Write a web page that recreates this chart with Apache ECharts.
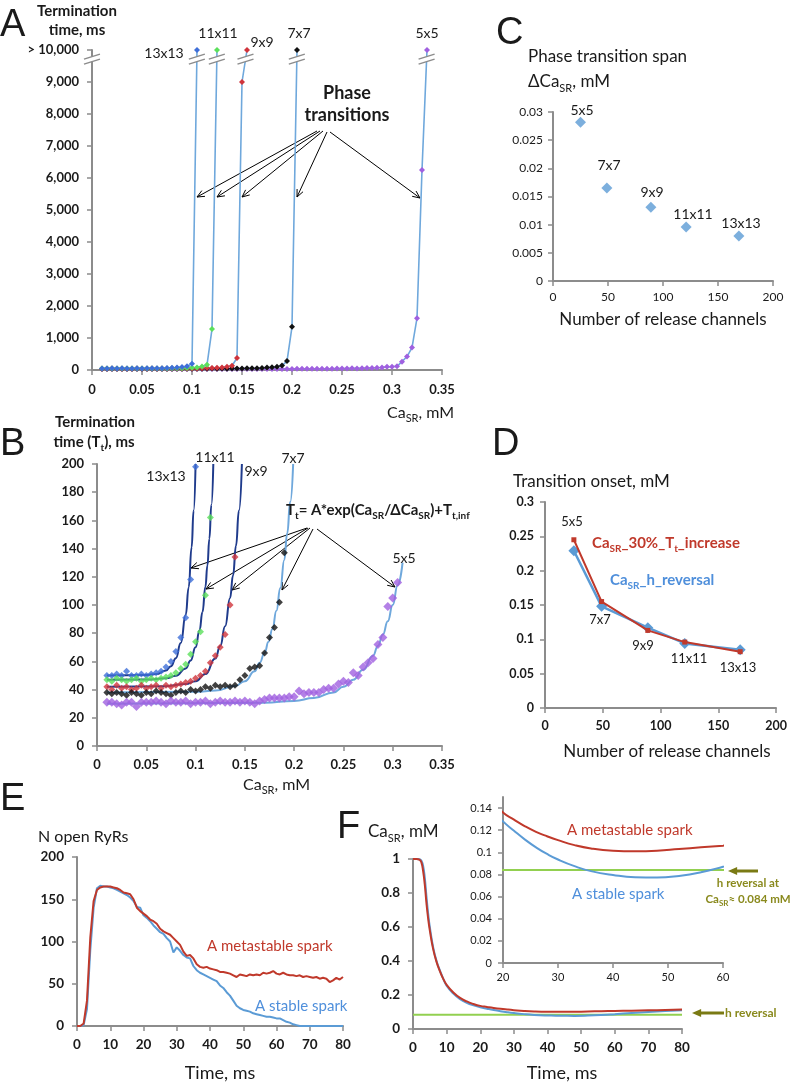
<!DOCTYPE html>
<html><head><meta charset="utf-8">
<script src="https://cdn.jsdelivr.net/npm/echarts@6/dist/echarts.min.js"></script>
<style>html,body{margin:0;padding:0;background:#fff}#c{width:796px;height:1085px}</style>
</head><body><div id="c"></div>
<script>
// ---------------- DATA ----------------
// Panel A/B: Ca_SR grid (mM)
const caGrid = [0.01,0.015,0.02,0.025,0.03,0.035,0.04,0.045,0.05,0.055,
  0.06,0.065,0.07,0.075,0.08,0.085,0.09,0.095,0.1,0.105,
  0.11,0.115,0.12,0.125,0.13,0.135,0.14,0.145,0.15,0.155,
  0.16,0.165,0.17,0.175,0.18,0.185,0.19,0.195,0.2,0.205,
  0.21,0.215,0.22,0.225,0.23,0.235,0.24,0.245,0.25,0.255,
  0.26,0.265,0.27,0.275,0.28,0.285,0.29,0.295,0.3,0.305,
  0.31,0.315,0.32,0.325,0.33,0.335];
// Termination time (ms); 10000 means "> 10,000"
const tt13 = [50,50,51,50,53,50,50,51,50,51,52,53,56,60,67,77,91,118,198,10000];
const tt11 = [47,46,48,47,46,47,48,46,47,48,47,48,49,50,52,55,58,65,74,81,107,162,1280,10000];
const tt9  = [42,40,43,41,42,40,41,43,41,42,43,41,43,42,43,44,45,46,48,50,53,59,64,70,79,100,134,375,9000,10000];
const tt7  = [38,37,38,37,36,38,37,36,38,37,39,38,37,36,38,39,38,40,39,40,42,41,43,42,43,42,43,47,50,55,56,57,66,77,84,102,137,280,1350,10000];
const tt5  = [31,31,30,29,31,31,28,31,31,31,32,31,30,32,31,31,32,30,31,31,32,30,31,32,31,31,32,31,32,31,
  30,32,33,34,34,34,34,35,35,39,37,38,38,38,40,41,41,44,46,45,52,50,56,59,62,72,77,99,105,116,
  260,420,700,1620,6250,10000];
const sizeNames = ['13x13','11x11','9x9','7x7','5x5'];
// Panel B fitted curves
const fit13x = [0.01,0.05,0.06,0.07,0.075,0.08,0.085,0.09,0.093,0.096,0.098,0.1];
const fit13y = [50,50.3,51,53.5,56.6,62.3,73,93,112.5,141,167,200];
const fit11x = [0.01,0.05,0.07,0.08,0.09,0.095,0.1,0.104,0.107,0.11,0.112,0.114,0.116,0.118];
const fit11y = [47,47.2,48,49.8,55,60.6,70,82,95,113,128,147,171,200];
const fit9x  = [0.01,0.07,0.09,0.1,0.11,0.12,0.125,0.13,0.135,0.138,0.141,0.144,0.147];
const fit9y  = [42,42.4,44,46,51,62,71,85,105,121,142,167,200];
const fit7x  = [0.01,0.1,0.12,0.14,0.15,0.16,0.165,0.17,0.174,0.178,0.182,0.186,0.19,0.193,0.196,0.199];
const fit7y  = [38,38.4,39.3,42.5,46,53,59,66,74,83,96,112,132,151,173,200];
const fit5x  = [0.01,0.17,0.2,0.22,0.24,0.25,0.26,0.27,0.28,0.285,0.29,0.295,0.3,0.305,0.31];
const fit5y  = [30,30.7,32,34,38,42,47,54,64,71,79,88.5,100,114,130];
// Panel C / D
const channels = [25,49,89,121,169];
const spanDelta = [0.0282,0.0165,0.0131,0.0096,0.0080];
const onset30 = [0.245,0.155,0.113,0.096,0.082];
const onsetH  = [0.229,0.148,0.117,0.094,0.085];
// Panel E (N open RyRs vs time, ms)
const timeE = [0,1,2,3,4,5,6,7,8,9,10,11,12,13,14,15,16,17,18,19,20,21,22,23,24,25,26,27,28,29,
  30,31,32,33,34,35,36,37,38,39,40,41,42,43,44,45,46,47,48,49,50,51,52,53,54,55,56,57,58,59,
  60,61,62,63,64,65,66,67,68,69,70,71,72,73,74,75,76,77,78,79,80];
const stableE = [0,0,1,20,90,140,163,166,165,165,164,163,161,159,157,155,152,148,141,140,
  131,128,124,119,115,111,109,104,100,87,93,89,84,81,80,71,66,63,61,59,
  57,55,53,48,45,40,36,30,24,21,19,18,17,15,14,13,12,11,11,10,
  9,9,7,5,4,2,1,0,0,0,0,0,0,0,0,0,0,0,0,0,0];
const metaE = [0,0,3,30,105,148,161,164,165,165,165,164,163,161,158,157,156,150,140,136,
  133,130,126,124,121,115,112,110,108,104,100,96,88,83,84,80,73,70,69,70,
  68,67,66,64,64,63,62,60,58,61,60,59,61,60,61,60,63,62,63,65,
  62,61,63,61,60,60,59,60,58,59,58,57,58,56,57,56,52,54,57,55,58];
// Panel F (Ca_SR, mM vs time)
const timeF = [0,1,2,2.5,3,3.5,4,4.5,5,6,7,8,9,10,12,14,16,18,20,22,24,26,28,30,33,36,40,44,48,52,56,60,65,70,75,80];
const metaF = [1,1,0.995,0.98,0.93,0.85,0.74,0.65,0.58,0.47,0.395,0.34,0.295,0.26,0.215,0.183,0.162,0.147,
  0.136,0.1295,0.1235,0.1185,0.1145,0.111,0.1065,0.1035,0.1015,0.101,0.1015,0.103,0.1045,0.106,0.108,0.110,0.112,0.114];
const stableF = [1,1,0.998,0.99,0.96,0.89,0.78,0.68,0.6,0.48,0.4,0.345,0.295,0.255,0.208,0.176,0.154,0.139,
  0.128,0.1195,0.1115,0.1045,0.0985,0.0935,0.0875,0.083,0.0795,0.0775,0.0772,0.0787,0.082,0.087,0.094,0.1,0.106,0.111];
const hReversal = 0.084;

// ---------------- STYLE ----------------
const FONT = 'Lato, "Open Sans", sans-serif';
const AXC = '#8c8c8c', TXT = '#1a1a1a';
const LBLUE = '#5B9BD5', DRED = '#C0392B', NAVY = '#1F3B8C', GREEN = '#92D050', OLIVE = '#8A8A1E';
const markColors = ['#3F6FD8','#5BE05B','#D0343C','#111111','#A060E0'];
const ttAll = [tt13, tt11, tt9, tt7, tt5];

function zip(xs, ys){ return ys.map((y,i)=>[xs[i], y]); }
function axis(gridIndex, min, max, interval, lab, extra){
  return Object.assign({
    type:'value', gridIndex, min, max, interval,
    axisLine:{show:true, onZero:false, lineStyle:{color:AXC, width:2}},
    axisTick:{show:true, inside:false, length:5, lineStyle:{color:AXC, width:1.5}},
    splitLine:{show:false},
    axisLabel:Object.assign({show:true, color:TXT, fontFamily:FONT, fontSize:13, fontWeight:'bold', margin:12,
      formatter: v => String(+(+v).toFixed(4))}, lab||{})
  }, extra||{});
}
const grids = [
  {left:92, top:50, width:350, height:320},
  {left:97, top:464, width:345, height:282},
  {left:553, top:112, width:220, height:169},
  {left:545, top:502, width:231, height:206},
  {left:77, top:857, width:266, height:169},
  {left:413, top:859, width:269, height:170},
  {left:503, top:797, width:220, height:166}
].map(g => Object.assign({containLabel:false, outerBoundsMode:'none'}, g));

const xAxes = [
  axis(0, 0, 0.35, 0.05, {margin:13}),
  axis(1, 0, 0.35, 0.05, {margin:12}),
  axis(2, 0, 200, 50, {fontWeight:'normal', fontSize:12, margin:10}),
  axis(3, 0, 200, 50, {fontSize:12.5, margin:11}),
  axis(4, 0, 80, 10, {fontSize:13.5, margin:12}),
  axis(5, 0, 80, 10, {fontSize:13.5, margin:12}),
  axis(6, 20, 60, 10, {fontWeight:'normal', fontSize:11, margin:9})
];
const yAxes = [
  axis(0, 0, 10000, 1000, {margin:13, formatter: v => v===10000 ? '> 10,000' : Number(v).toLocaleString('en-US')}),
  axis(1, 0, 200, 20, {margin:13}),
  axis(2, 0, 0.03, 0.005, {fontWeight:'normal', fontSize:12, margin:10}),
  axis(3, 0, 0.3, 0.05, {fontSize:12.5, margin:11}),
  axis(4, 0, 200, 50, {fontSize:13.5, margin:13}),
  axis(5, 0, 1, 0.2, {fontSize:13.5, margin:13}),
  axis(6, 0, 0.15, 0.02, {fontWeight:'normal', fontSize:11, margin:11, showMaxLabel:false})
];

const series = [];
// Panel A: lines with markers (drawn from 5x5 up to 13x13 so smaller-span series sit on top)
[4,3,2,1,0].forEach(k => {
  series.push({type:'line', xAxisIndex:0, yAxisIndex:0, data: zip(caGrid, ttAll[k]),
    symbol:'diamond', symbolSize:6, showSymbol:true,
    lineStyle:{color:'#6FA8DC', width:1.6}, itemStyle:{color:markColors[k]}, z:3});
});
// break marks on panel A (axis + each curve)
function crossX(xs, ys, yv){
  for (let i=0;i<ys.length-1;i++) if (ys[i] < yv && ys[i+1] >= yv) return xs[i] + (xs[i+1]-xs[i])*(yv-ys[i])/(ys[i+1]-ys[i]);
  return xs[ys.length-1];
}
const breakY = 9700;
const breakPts = [[0, breakY]].concat(ttAll.map(tt => [crossX(caGrid, tt, breakY), breakY]));
series.push({type:'custom', xAxisIndex:0, yAxisIndex:0, clip:false, silent:true, z:6, data: breakPts,
  renderItem:(params, api) => {
    const p = api.coord([api.value(0), api.value(1)]); const cx=p[0], cy=p[1];
    return {type:'group', children:[
      {type:'polygon', shape:{points:[[cx-6,cy-1.5],[cx+6,cy-5],[cx+6,cy+0.5],[cx-6,cy+4]]}, style:{fill:'#fff'}},
      {type:'line', shape:{x1:cx-8,y1:cy-0.5,x2:cx+8,y2:cy-5.5}, style:{stroke:AXC, lineWidth:1.5}},
      {type:'line', shape:{x1:cx-8,y1:cy+4.5,x2:cx+8,y2:cy-0.5}, style:{stroke:AXC, lineWidth:1.5}}
    ]};
  }});
// Panel B: fitted curves + scatter
[[fit13x,fit13y,NAVY],[fit11x,fit11y,NAVY],[fit9x,fit9y,NAVY],[fit7x,fit7y,'#6FA8DC'],[fit5x,fit5y,'#6FA8DC']].forEach(f => {
  series.push({type:'line', xAxisIndex:1, yAxisIndex:1, data: zip(f[0], f[1]), showSymbol:false, symbol:'none',
    smooth:true, smoothMonotone:'x', lineStyle:{color:f[2], width:2}, z:2});
});
ttAll.forEach((tt, k) => {
  series.push({type:'scatter', xAxisIndex:1, yAxisIndex:1, data: zip(caGrid, tt), clip:true,
    symbol:'diamond', symbolSize: k===4 ? 9 : 7, itemStyle:{color:markColors[k]}, z:4});
});
// Panel C
series.push({type:'scatter', xAxisIndex:2, yAxisIndex:2, data: zip(channels, spanDelta),
  symbol:'diamond', symbolSize:11, itemStyle:{color:LBLUE}});
// Panel D
series.push({type:'line', xAxisIndex:3, yAxisIndex:3, data: zip(channels, onsetH),
  symbol:'diamond', symbolSize:11, lineStyle:{color:LBLUE, width:2.5}, itemStyle:{color:LBLUE}, z:3});
series.push({type:'line', xAxisIndex:3, yAxisIndex:3, data: zip(channels, onset30),
  symbol:'rect', symbolSize:5, lineStyle:{color:DRED, width:2}, itemStyle:{color:DRED}, z:4});
// Panel E
series.push({type:'line', xAxisIndex:4, yAxisIndex:4, data: zip(timeE, stableE), symbol:'none',
  lineStyle:{color:LBLUE, width:2}, z:3});
series.push({type:'line', xAxisIndex:4, yAxisIndex:4, data: zip(timeE, metaE), symbol:'none',
  lineStyle:{color:DRED, width:2}, z:4});
// Panel F main + inset
[[5,5],[6,6]].forEach(ix => {
  series.push({type:'line', xAxisIndex:ix[0], yAxisIndex:ix[1], data: [[timeF[0], hReversal],[timeF[timeF.length-1], hReversal]],
    symbol:'none', lineStyle:{color:GREEN, width:2}, clip:true, z:2});
  series.push({type:'line', xAxisIndex:ix[0], yAxisIndex:ix[1], data: zip(timeF, stableF), symbol:'none', smooth:0.5,
    lineStyle:{color:LBLUE, width:2}, clip:true, z:3});
  series.push({type:'line', xAxisIndex:ix[0], yAxisIndex:ix[1], data: zip(timeF, metaF), symbol:'none', smooth:0.5,
    lineStyle:{color:DRED, width:2}, clip:true, z:4});
});

// ---------------- ANNOTATIONS ----------------
function txt(x, y, text, size, opt){
  opt = opt || {};
  return {type:'text', x, y, z:100, silent:true, style:{text, fill: opt.color||TXT,
    fontSize:size, fontFamily: opt.family||FONT, fontWeight: opt.weight||'normal',
    align: opt.align||'left', verticalAlign:'middle'}};
}
function rtxt(x, y, text, size, opt){
  opt = opt || {};
  const col = opt.color||TXT, w = opt.weight||'normal', ss = Math.round(size*0.66);
  return {type:'text', x, y, z:100, silent:true, style:{text, fill:col, fontSize:size, fontFamily:FONT, fontWeight:w,
    align: opt.align||'left', verticalAlign:'middle',
    rich:{ n:{fontSize:size, fontFamily:FONT, fontWeight:w, fill:col, lineHeight:size+6},
           s:{fontSize:ss, fontFamily:FONT, fontWeight:w, fill:col, lineHeight:ss+1, verticalAlign:'bottom'} }}};
}
function arrow(x1,y1,x2,y2,color,w,hl,filled){
  const a = Math.atan2(y2-y1, x2-x1), s = 0.42;
  const h1 = [x2-hl*Math.cos(a-s), y2-hl*Math.sin(a-s)], h2 = [x2-hl*Math.cos(a+s), y2-hl*Math.sin(a+s)];
  const ex = filled ? x2-hl*0.7*Math.cos(a) : x2, ey = filled ? y2-hl*0.7*Math.sin(a) : y2;
  const ch = [{type:'line', shape:{x1,y1,x2:ex,y2:ey}, style:{stroke:color, lineWidth:w}}];
  if (filled) ch.push({type:'polygon', shape:{points:[[x2,y2],h1,h2]}, style:{fill:color}});
  else ch.push({type:'polyline', shape:{points:[h1,[x2,y2],h2]}, style:{stroke:color, lineWidth:w, fill:'none'}});
  return {type:'group', z:100, silent:true, children:ch};
}
const LET = {family:'"Liberation Sans", Arial, sans-serif'};
const graphics = [
  // panel letters
  txt(0, 26, 'A', 38, LET), txt(0, 445, 'B', 38, LET), txt(496, 34, 'C', 38, LET),
  txt(492, 445, 'D', 38, LET), txt(0, 800, 'E', 38, LET), txt(337, 828, 'F', 38, LET),
  // Panel A
  txt(77, 11, 'Termination', 15, {weight:'bold', align:'center'}),
  txt(77, 30, 'time, ms', 15, {weight:'bold', align:'center'}),
  rtxt(387, 413, '{n|Ca}{s|SR}{n|, mM}', 16),
  txt(164, 53, '13x13', 14, {align:'center'}), txt(218, 33, '11x11', 14, {align:'center'}),
  txt(262, 42, '9x9', 14, {align:'center'}), txt(299, 33, '7x7', 14, {align:'center'}),
  txt(427, 33, '5x5', 14, {align:'center'}),
  txt(347, 93, 'Phase', 18, {weight:'bold', align:'center'}),
  txt(347, 115, 'transitions', 18, {weight:'bold', align:'center'}),
  arrow(317,131,197,197,'#000',1,8,false), arrow(320,131,217,197,'#000',1,8,false),
  arrow(323,131,242,197,'#000',1,8,false), arrow(327,132,297,197,'#000',1,8,false),
  arrow(330,132,420,198,'#000',1,8,false),
  // Panel B
  txt(95, 422, 'Termination', 15, {weight:'bold', align:'center'}),
  rtxt(94, 442, '{n|time (T}{s|t}{n|), ms}', 15, {weight:'bold', align:'center'}),
  rtxt(243, 785, '{n|Ca}{s|SR}{n|, mM}', 16),
  txt(166, 476, '13x13', 14, {align:'center'}), txt(215, 457, '11x11', 14, {align:'center'}),
  txt(256, 471, '9x9', 14, {align:'center'}), txt(293, 458, '7x7', 14, {align:'center'}),
  txt(404, 558, '5x5', 14, {align:'center'}),
  rtxt(286, 510, '{n|T}{s|t}{n|= A*exp(Ca}{s|SR}{n|/ΔCa}{s|SR}{n|)+T}{s|t,inf}', 15, {weight:'bold'}),
  arrow(307,528,191,568,'#000',1,8,false), arrow(308,528,206,589,'#000',1,8,false),
  arrow(310,528,232,590,'#000',1,8,false), arrow(313,529,282,590,'#000',1,8,false),
  arrow(317,529,395,587,'#000',1,8,false),
  // Panel C
  txt(528, 57, 'Phase transition span', 17),
  rtxt(528, 82, '{n|ΔCa}{s|SR}{n|, mM}', 17),
  txt(663, 320, 'Number of release channels', 17, {align:'center'}),
  txt(582, 110, '5x5', 14, {align:'center'}), txt(609, 165, '7x7', 14, {align:'center'}),
  txt(652, 192, '9x9', 14, {align:'center'}), txt(693, 214, '11x11', 14, {align:'center'}),
  txt(741, 223, '13x13', 14, {align:'center'}),
  // Panel D
  txt(513, 482, 'Transition onset, mM', 17),
  txt(667, 752, 'Number of release channels', 17, {align:'center'}),
  txt(572, 522, '5x5', 13, {align:'center'}), txt(600, 620, '7x7', 13, {align:'center'}),
  txt(643, 646, '9x9', 13, {align:'center'}), txt(689, 659, '11x11', 13, {align:'center'}),
  txt(738, 668, '13x13', 13, {align:'center'}),
  rtxt(592, 543, '{n|Ca}{s|SR}{n|_30%_T}{s|t}{n|_increase}', 15, {weight:'bold', color:DRED}),
  rtxt(610, 580, '{n|Ca}{s|SR}{n|_h_reversal}', 15, {weight:'bold', color:'#4F8FDB'}),
  // Panel E
  txt(38, 837, 'N open RyRs', 16),
  txt(220, 1073, 'Time, ms', 18, {align:'center'}),
  txt(207, 946, 'A metastable spark', 15, {color:DRED}),
  txt(255, 1006, 'A stable spark', 15, {color:'#4F8FDB'}),
  // Panel F
  rtxt(368, 832, '{n|Ca}{s|SR}{n|, mM}', 17),
  txt(562, 1073, 'Time, ms', 18, {align:'center'}),
  txt(567, 830, 'A metastable spark', 15, {color:DRED}),
  txt(572, 894, 'A stable spark', 15, {color:'#4F8FDB'}),
  txt(748, 883, 'h reversal at', 11.5, {weight:'bold', color:OLIVE, align:'center'}),
  rtxt(748, 899, '{n|Ca}{s|SR}{n|≈ 0.084 mM}', 11.5, {weight:'bold', color:OLIVE, align:'center'}),
  arrow(758,871,728,871,'#7A7A14',3,10,true),
  arrow(724,1013,692,1013,'#7A7A14',3,10,true),
  txt(725, 1013, 'h reversal', 12, {weight:'bold', color:OLIVE})
];

const chart = echarts.init(document.getElementById('c'), null, {renderer:'canvas', width:796, height:1085});
chart.setOption({
  animation:false, backgroundColor:'#fff',
  textStyle:{fontFamily:FONT},
  grid: grids, xAxis: xAxes, yAxis: yAxes, series, graphic: graphics
});
</script></body></html>
